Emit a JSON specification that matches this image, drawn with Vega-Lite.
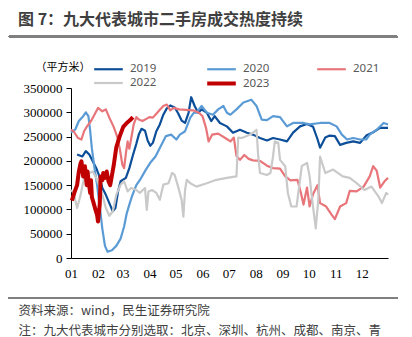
{
  "$schema": "https://vega.github.io/schema/vega-lite/v6.json",
  "autosize": {"type": "none"},
  "width": 317,
  "height": 170,
  "padding": {"left": 71, "top": 88, "right": 24, "bottom": 79},
  "background": "white",
  "config": {"view": {"stroke": null}, "font": "Noto Sans CJK SC"},
  "title": {
    "text": "图 7：九大代表城市二手房成交热度持续",
    "anchor": "start",
    "frame": "group",
    "font": "Noto Sans CJK SC",
    "fontSize": 16,
    "fontWeight": "bold",
    "color": "#3F3F3F",
    "dx": -53,
    "offset": 8
  },
  "data": {
    "values": [
      {"y": "2019", "d": 8, "v": 213000}, {"y": "2019", "d": 14, "v": 209000}, {"y": "2019", "d": 18, "v": 220000}, {"y": "2019", "d": 22, "v": 213000},
      {"y": "2019", "d": 26, "v": 199000}, {"y": "2019", "d": 30, "v": 185000}, {"y": "2019", "d": 33, "v": 171000}, {"y": "2019", "d": 37, "v": 144000},
      {"y": "2019", "d": 41, "v": 130000}, {"y": "2019", "d": 45, "v": 113000}, {"y": "2019", "d": 49, "v": 96000}, {"y": "2019", "d": 52, "v": 103000},
      {"y": "2019", "d": 55, "v": 137000}, {"y": "2019", "d": 58, "v": 158000}, {"y": "2019", "d": 64, "v": 165000}, {"y": "2019", "d": 68, "v": 185000},
      {"y": "2019", "d": 72, "v": 211000}, {"y": "2019", "d": 76, "v": 235000}, {"y": "2019", "d": 79, "v": 255000}, {"y": "2019", "d": 82, "v": 266000},
      {"y": "2019", "d": 86, "v": 262000}, {"y": "2019", "d": 89, "v": 242000}, {"y": "2019", "d": 92, "v": 231000}, {"y": "2019", "d": 95, "v": 237000},
      {"y": "2019", "d": 99, "v": 261000}, {"y": "2019", "d": 103, "v": 275000}, {"y": "2019", "d": 107, "v": 295000}, {"y": "2019", "d": 111, "v": 308000},
      {"y": "2019", "d": 115, "v": 314000}, {"y": "2019", "d": 120, "v": 310000}, {"y": "2019", "d": 124, "v": 298000}, {"y": "2019", "d": 128, "v": 283000},
      {"y": "2019", "d": 132, "v": 278000}, {"y": "2019", "d": 136, "v": 299000}, {"y": "2019", "d": 139, "v": 331000}, {"y": "2019", "d": 143, "v": 313000},
      {"y": "2019", "d": 147, "v": 299000}, {"y": "2019", "d": 151, "v": 306000}, {"y": "2019", "d": 157, "v": 299000}, {"y": "2019", "d": 162, "v": 282000},
      {"y": "2019", "d": 166, "v": 292000}, {"y": "2019", "d": 172, "v": 278000}, {"y": "2019", "d": 180, "v": 271000}, {"y": "2019", "d": 187, "v": 258000},
      {"y": "2019", "d": 195, "v": 264000}, {"y": "2019", "d": 203, "v": 258000}, {"y": "2019", "d": 210, "v": 254000}, {"y": "2019", "d": 218, "v": 247000},
      {"y": "2019", "d": 226, "v": 242000}, {"y": "2019", "d": 233, "v": 247000}, {"y": "2019", "d": 241, "v": 244000}, {"y": "2019", "d": 249, "v": 240000},
      {"y": "2019", "d": 256, "v": 258000}, {"y": "2019", "d": 264, "v": 271000}, {"y": "2019", "d": 272, "v": 276000}, {"y": "2019", "d": 279, "v": 270000},
      {"y": "2019", "d": 284, "v": 245000}, {"y": "2019", "d": 287, "v": 227000}, {"y": "2019", "d": 293, "v": 248000}, {"y": "2019", "d": 298, "v": 252000},
      {"y": "2019", "d": 304, "v": 251000}, {"y": "2019", "d": 310, "v": 233000}, {"y": "2019", "d": 317, "v": 237000}, {"y": "2019", "d": 325, "v": 240000},
      {"y": "2019", "d": 333, "v": 237000}, {"y": "2019", "d": 340, "v": 252000}, {"y": "2019", "d": 348, "v": 259000}, {"y": "2019", "d": 356, "v": 268000},
      {"y": "2019", "d": 365, "v": 268000},

      {"y": "2020", "d": 1, "v": 258000}, {"y": "2020", "d": 6, "v": 265000}, {"y": "2020", "d": 10, "v": 282000}, {"y": "2020", "d": 15, "v": 292000},
      {"y": "2020", "d": 18, "v": 300000}, {"y": "2020", "d": 21, "v": 292000}, {"y": "2020", "d": 23, "v": 262000}, {"y": "2020", "d": 25, "v": 225000},
      {"y": "2020", "d": 28, "v": 185000}, {"y": "2020", "d": 31, "v": 150000}, {"y": "2020", "d": 34, "v": 106000}, {"y": "2020", "d": 37, "v": 60000},
      {"y": "2020", "d": 40, "v": 25000}, {"y": "2020", "d": 43, "v": 13000}, {"y": "2020", "d": 48, "v": 16000}, {"y": "2020", "d": 53, "v": 25000},
      {"y": "2020", "d": 58, "v": 40000}, {"y": "2020", "d": 62, "v": 65000}, {"y": "2020", "d": 65, "v": 92000}, {"y": "2020", "d": 68, "v": 110000},
      {"y": "2020", "d": 71, "v": 127000}, {"y": "2020", "d": 76, "v": 150000}, {"y": "2020", "d": 81, "v": 163000}, {"y": "2020", "d": 87, "v": 182000},
      {"y": "2020", "d": 92, "v": 196000}, {"y": "2020", "d": 98, "v": 209000}, {"y": "2020", "d": 104, "v": 230000}, {"y": "2020", "d": 110, "v": 251000},
      {"y": "2020", "d": 116, "v": 254000}, {"y": "2020", "d": 122, "v": 244000}, {"y": "2020", "d": 126, "v": 254000}, {"y": "2020", "d": 132, "v": 261000},
      {"y": "2020", "d": 138, "v": 289000}, {"y": "2020", "d": 142, "v": 299000}, {"y": "2020", "d": 145, "v": 299000}, {"y": "2020", "d": 151, "v": 313000},
      {"y": "2020", "d": 157, "v": 299000}, {"y": "2020", "d": 164, "v": 295000}, {"y": "2020", "d": 170, "v": 306000}, {"y": "2020", "d": 176, "v": 313000},
      {"y": "2020", "d": 180, "v": 299000}, {"y": "2020", "d": 184, "v": 295000}, {"y": "2020", "d": 191, "v": 306000}, {"y": "2020", "d": 199, "v": 320000},
      {"y": "2020", "d": 208, "v": 326000}, {"y": "2020", "d": 214, "v": 313000}, {"y": "2020", "d": 220, "v": 285000}, {"y": "2020", "d": 226, "v": 284000},
      {"y": "2020", "d": 233, "v": 292000}, {"y": "2020", "d": 241, "v": 290000}, {"y": "2020", "d": 249, "v": 271000}, {"y": "2020", "d": 256, "v": 278000},
      {"y": "2020", "d": 268, "v": 278000}, {"y": "2020", "d": 275, "v": 275000}, {"y": "2020", "d": 287, "v": 278000}, {"y": "2020", "d": 298, "v": 278000},
      {"y": "2020", "d": 306, "v": 271000}, {"y": "2020", "d": 312, "v": 254000}, {"y": "2020", "d": 318, "v": 244000}, {"y": "2020", "d": 325, "v": 247000},
      {"y": "2020", "d": 333, "v": 244000}, {"y": "2020", "d": 340, "v": 244000}, {"y": "2020", "d": 344, "v": 254000}, {"y": "2020", "d": 352, "v": 264000},
      {"y": "2020", "d": 360, "v": 278000}, {"y": "2020", "d": 365, "v": 275000},

      {"y": "2021", "d": 1, "v": 264000}, {"y": "2021", "d": 4, "v": 261000}, {"y": "2021", "d": 9, "v": 247000}, {"y": "2021", "d": 13, "v": 244000},
      {"y": "2021", "d": 16, "v": 261000}, {"y": "2021", "d": 19, "v": 270000}, {"y": "2021", "d": 24, "v": 282000}, {"y": "2021", "d": 27, "v": 292000},
      {"y": "2021", "d": 32, "v": 309000}, {"y": "2021", "d": 37, "v": 302000}, {"y": "2021", "d": 41, "v": 306000}, {"y": "2021", "d": 45, "v": 289000},
      {"y": "2021", "d": 50, "v": 270000}, {"y": "2021", "d": 54, "v": 250000}, {"y": "2021", "d": 57, "v": 225000}, {"y": "2021", "d": 60, "v": 192000},
      {"y": "2021", "d": 62, "v": 185000}, {"y": "2021", "d": 64, "v": 215000}, {"y": "2021", "d": 66, "v": 240000}, {"y": "2021", "d": 68, "v": 225000},
      {"y": "2021", "d": 70, "v": 245000}, {"y": "2021", "d": 73, "v": 275000}, {"y": "2021", "d": 76, "v": 290000}, {"y": "2021", "d": 79, "v": 285000},
      {"y": "2021", "d": 83, "v": 282000}, {"y": "2021", "d": 87, "v": 286000}, {"y": "2021", "d": 91, "v": 290000}, {"y": "2021", "d": 95, "v": 289000},
      {"y": "2021", "d": 99, "v": 297000}, {"y": "2021", "d": 103, "v": 305000}, {"y": "2021", "d": 107, "v": 313000}, {"y": "2021", "d": 111, "v": 316000},
      {"y": "2021", "d": 115, "v": 304000}, {"y": "2021", "d": 119, "v": 309000}, {"y": "2021", "d": 125, "v": 306000}, {"y": "2021", "d": 133, "v": 305000},
      {"y": "2021", "d": 141, "v": 304000}, {"y": "2021", "d": 148, "v": 299000}, {"y": "2021", "d": 152, "v": 292000}, {"y": "2021", "d": 156, "v": 268000},
      {"y": "2021", "d": 159, "v": 240000}, {"y": "2021", "d": 163, "v": 254000}, {"y": "2021", "d": 170, "v": 256000}, {"y": "2021", "d": 179, "v": 246000},
      {"y": "2021", "d": 184, "v": 240000}, {"y": "2021", "d": 188, "v": 248000}, {"y": "2021", "d": 191, "v": 210000}, {"y": "2021", "d": 195, "v": 202000},
      {"y": "2021", "d": 200, "v": 212000}, {"y": "2021", "d": 205, "v": 204000}, {"y": "2021", "d": 210, "v": 201000}, {"y": "2021", "d": 218, "v": 200000},
      {"y": "2021", "d": 226, "v": 190000}, {"y": "2021", "d": 233, "v": 185000}, {"y": "2021", "d": 241, "v": 184000}, {"y": "2021", "d": 247, "v": 168000},
      {"y": "2021", "d": 253, "v": 160000}, {"y": "2021", "d": 261, "v": 161000}, {"y": "2021", "d": 265, "v": 134000}, {"y": "2021", "d": 268, "v": 110000},
      {"y": "2021", "d": 272, "v": 145000}, {"y": "2021", "d": 275, "v": 106000}, {"y": "2021", "d": 279, "v": 132000}, {"y": "2021", "d": 284, "v": 150000},
      {"y": "2021", "d": 287, "v": 113000}, {"y": "2021", "d": 294, "v": 106000}, {"y": "2021", "d": 300, "v": 90000}, {"y": "2021", "d": 304, "v": 80000},
      {"y": "2021", "d": 310, "v": 106000}, {"y": "2021", "d": 317, "v": 113000}, {"y": "2021", "d": 321, "v": 138000}, {"y": "2021", "d": 329, "v": 137000},
      {"y": "2021", "d": 337, "v": 147000}, {"y": "2021", "d": 344, "v": 168000}, {"y": "2021", "d": 348, "v": 189000}, {"y": "2021", "d": 352, "v": 180000},
      {"y": "2021", "d": 356, "v": 145000}, {"y": "2021", "d": 361, "v": 158000}, {"y": "2021", "d": 365, "v": 165000},

      {"y": "2022", "d": 1, "v": 140000}, {"y": "2022", "d": 4, "v": 134000}, {"y": "2022", "d": 8, "v": 103000}, {"y": "2022", "d": 12, "v": 130000},
      {"y": "2022", "d": 16, "v": 165000}, {"y": "2022", "d": 18, "v": 182000}, {"y": "2022", "d": 22, "v": 175000}, {"y": "2022", "d": 26, "v": 178000},
      {"y": "2022", "d": 30, "v": 165000}, {"y": "2022", "d": 33, "v": 151000}, {"y": "2022", "d": 37, "v": 130000}, {"y": "2022", "d": 41, "v": 103000},
      {"y": "2022", "d": 45, "v": 87000}, {"y": "2022", "d": 49, "v": 96000}, {"y": "2022", "d": 53, "v": 130000}, {"y": "2022", "d": 58, "v": 151000},
      {"y": "2022", "d": 62, "v": 158000}, {"y": "2022", "d": 66, "v": 137000}, {"y": "2022", "d": 70, "v": 144000}, {"y": "2022", "d": 76, "v": 140000},
      {"y": "2022", "d": 80, "v": 134000}, {"y": "2022", "d": 86, "v": 144000}, {"y": "2022", "d": 88, "v": 99000}, {"y": "2022", "d": 90, "v": 137000},
      {"y": "2022", "d": 94, "v": 140000}, {"y": "2022", "d": 99, "v": 134000}, {"y": "2022", "d": 103, "v": 120000}, {"y": "2022", "d": 107, "v": 151000},
      {"y": "2022", "d": 113, "v": 154000}, {"y": "2022", "d": 117, "v": 175000}, {"y": "2022", "d": 120, "v": 171000}, {"y": "2022", "d": 124, "v": 147000},
      {"y": "2022", "d": 128, "v": 120000}, {"y": "2022", "d": 130, "v": 85000}, {"y": "2022", "d": 132, "v": 140000}, {"y": "2022", "d": 134, "v": 161000},
      {"y": "2022", "d": 138, "v": 154000}, {"y": "2022", "d": 145, "v": 147000}, {"y": "2022", "d": 157, "v": 154000}, {"y": "2022", "d": 168, "v": 161000},
      {"y": "2022", "d": 180, "v": 165000}, {"y": "2022", "d": 191, "v": 168000}, {"y": "2022", "d": 193, "v": 248000}, {"y": "2022", "d": 197, "v": 247000},
      {"y": "2022", "d": 203, "v": 251000}, {"y": "2022", "d": 210, "v": 258000}, {"y": "2022", "d": 214, "v": 264000}, {"y": "2022", "d": 216, "v": 209000},
      {"y": "2022", "d": 218, "v": 175000}, {"y": "2022", "d": 226, "v": 171000}, {"y": "2022", "d": 230, "v": 175000}, {"y": "2022", "d": 233, "v": 209000},
      {"y": "2022", "d": 235, "v": 240000}, {"y": "2022", "d": 239, "v": 237000}, {"y": "2022", "d": 241, "v": 202000}, {"y": "2022", "d": 247, "v": 189000},
      {"y": "2022", "d": 250, "v": 134000}, {"y": "2022", "d": 254, "v": 106000}, {"y": "2022", "d": 260, "v": 106000}, {"y": "2022", "d": 266, "v": 189000},
      {"y": "2022", "d": 272, "v": 196000}, {"y": "2022", "d": 275, "v": 168000}, {"y": "2022", "d": 277, "v": 134000}, {"y": "2022", "d": 282, "v": 61000},
      {"y": "2022", "d": 285, "v": 120000}, {"y": "2022", "d": 287, "v": 209000}, {"y": "2022", "d": 293, "v": 175000}, {"y": "2022", "d": 302, "v": 182000},
      {"y": "2022", "d": 313, "v": 168000}, {"y": "2022", "d": 321, "v": 165000}, {"y": "2022", "d": 329, "v": 154000}, {"y": "2022", "d": 338, "v": 140000},
      {"y": "2022", "d": 346, "v": 147000}, {"y": "2022", "d": 354, "v": 127000}, {"y": "2022", "d": 358, "v": 113000}, {"y": "2022", "d": 363, "v": 134000},
      {"y": "2022", "d": 365, "v": 130000},

      {"y": "2023", "d": 2, "v": 118000}, {"y": "2023", "d": 5, "v": 135000}, {"y": "2023", "d": 8, "v": 150000}, {"y": "2023", "d": 10, "v": 178000},
      {"y": "2023", "d": 12, "v": 195000}, {"y": "2023", "d": 13, "v": 199000}, {"y": "2023", "d": 15, "v": 168000}, {"y": "2023", "d": 17, "v": 189000},
      {"y": "2023", "d": 19, "v": 150000}, {"y": "2023", "d": 20, "v": 178000}, {"y": "2023", "d": 21, "v": 161000}, {"y": "2023", "d": 23, "v": 134000},
      {"y": "2023", "d": 24, "v": 160000}, {"y": "2023", "d": 25, "v": 125000}, {"y": "2023", "d": 27, "v": 113000}, {"y": "2023", "d": 29, "v": 100000},
      {"y": "2023", "d": 31, "v": 88000}, {"y": "2023", "d": 32, "v": 75000}, {"y": "2023", "d": 33, "v": 92000}, {"y": "2023", "d": 34, "v": 110000},
      {"y": "2023", "d": 35, "v": 168000}, {"y": "2023", "d": 37, "v": 160000}, {"y": "2023", "d": 38, "v": 175000}, {"y": "2023", "d": 40, "v": 165000},
      {"y": "2023", "d": 42, "v": 178000}, {"y": "2023", "d": 44, "v": 158000}, {"y": "2023", "d": 46, "v": 150000}, {"y": "2023", "d": 48, "v": 170000},
      {"y": "2023", "d": 50, "v": 190000}, {"y": "2023", "d": 53, "v": 228000}, {"y": "2023", "d": 57, "v": 251000}, {"y": "2023", "d": 61, "v": 270000},
      {"y": "2023", "d": 65, "v": 278000}, {"y": "2023", "d": 69, "v": 284000}, {"y": "2023", "d": 72, "v": 290000}
    ]
  },
  "layer": [
    {
      "mark": {"type": "line", "strokeJoin": "round"},
      "encoding": {
        "x": {
          "field": "d", "type": "quantitative",
          "scale": {"domain": [1, 365], "nice": false, "zero": false},
          "axis": {
            "values": [1, 32, 60, 91, 121, 152, 182, 213, 244, 274, 305, 335],
            "labelExpr": "timeFormat(datetime(2021, 0, datum.value), '%m')",
            "ticks": false, "grid": false,
            "domainColor": "#000000", "domainWidth": 1,
            "labelFont": "Liberation Serif", "labelFontSize": 13, "labelColor": "#000000",
            "labelPadding": 9, "labelFlush": false, "labelOverlap": false,
            "title": ["资料来源：wind，民生证券研究院", "注：九大代表城市分别选取：北京、深圳、杭州、成都、南京、青"],
            "titleFont": "Noto Sans CJK SC", "titleFontSize": 12.5, "titleFontWeight": "normal", "titleColor": "#404040",
            "titleAlign": "left", "titleBaseline": "top", "titleX": -53, "titleY": 46, "titleLineHeight": 20
          }
        },
        "y": {
          "field": "v", "type": "quantitative",
          "scale": {"domain": [0, 350000], "nice": false, "zero": false},
          "axis": {
            "values": [0, 50000, 100000, 150000, 200000, 250000, 300000, 350000],
            "format": "d", "grid": false,
            "domainColor": "#000000", "tickColor": "#000000", "tickSize": 5,
            "labelFont": "Liberation Serif", "labelFontSize": 13, "labelColor": "#000000", "labelPadding": 4,
            "title": "（平方米）", "titleAngle": 0, "titleAlign": "left", "titleBaseline": "middle",
            "titleX": -36, "titleY": -21, "titleFont": "Noto Sans CJK SC", "titleFontSize": 11,
            "titleFontWeight": "normal", "titleColor": "#000000"
          }
        },
        "color": {
          "field": "y", "type": "nominal",
          "scale": {"domain": ["2019", "2020", "2021", "2022", "2023"], "range": ["#0D4E99", "#5B9BD5", "#E8757A", "#C9C9C9", "#C00000"]},
          "legend": {
            "orient": "none", "legendX": 30, "legendY": -26, "columns": 3, "direction": "horizontal",
            "title": null, "symbolType": "M-2.6,0H2.6", "symbolSize": 121, "symbolStrokeWidth": 3,
            "labelFont": "Noto Sans", "labelFontSize": 11.5, "labelColor": "#595959", "labelOffset": 14,
            "columnPadding": 42, "rowPadding": 0
          }
        },
        "strokeWidth": {
          "field": "y", "type": "nominal",
          "scale": {"type": "ordinal", "domain": ["2019", "2020", "2021", "2022", "2023"], "range": [2.2, 2.2, 2.2, 2.2, 4]},
          "legend": null
        }
      }
    },
    {
      "mark": {"type": "rule", "color": "#808080", "strokeWidth": 2, "clip": false},
      "encoding": {
        "x": {"datum": -70.2, "type": "quantitative", "scale": {"domain": [1, 365], "nice": false, "zero": false}, "axis": null},
        "x2": {"datum": 375.4},
        "y": {"datum": 455600, "type": "quantitative", "scale": {"domain": [0, 350000], "nice": false, "zero": false}, "axis": null}
      }
    },
    {
      "mark": {"type": "rule", "color": "#808080", "strokeWidth": 2, "clip": false},
      "encoding": {
        "x": {"datum": -70.2, "type": "quantitative", "scale": {"domain": [1, 365], "nice": false, "zero": false}, "axis": null},
        "x2": {"datum": 375.4},
        "y": {"datum": -82300, "type": "quantitative", "scale": {"domain": [0, 350000], "nice": false, "zero": false}, "axis": null}
      }
    }
  ],
  "resolve": {"scale": {"x": "independent", "y": "independent"}}
}
